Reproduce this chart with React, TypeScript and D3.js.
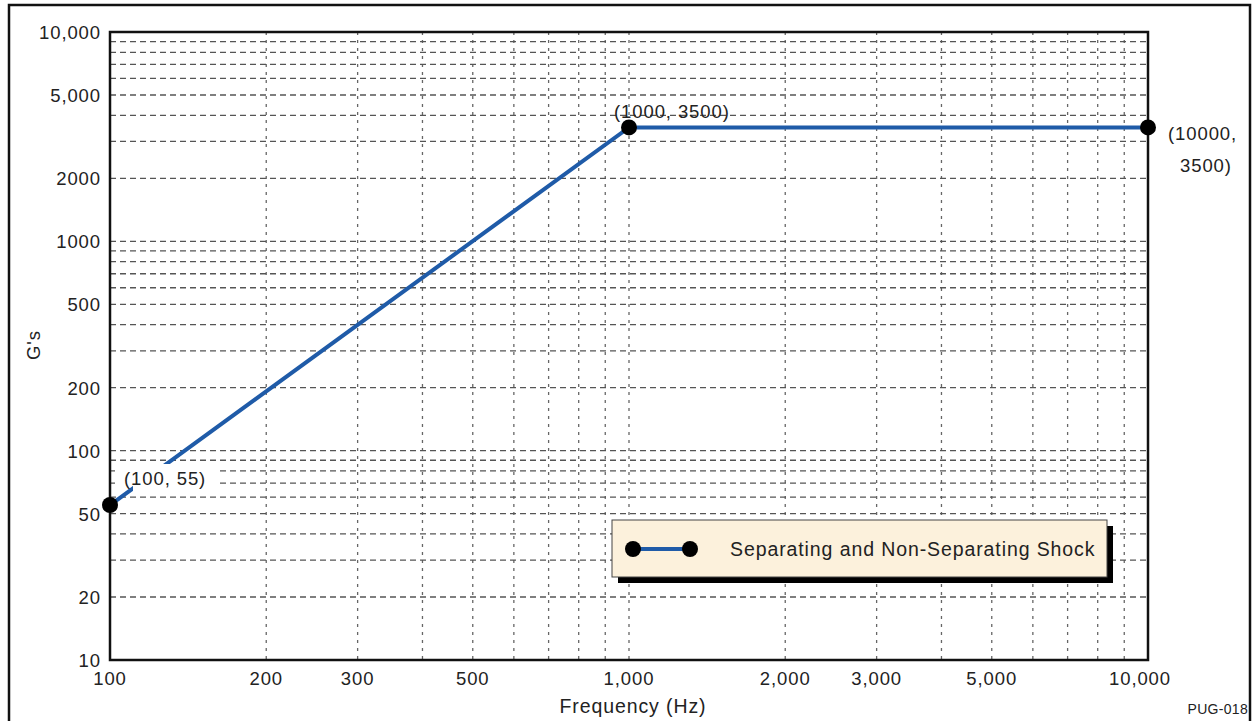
import React from "react";
import * as d3 from "d3";

const freqs = [100, 1000, 10000];
const gs = [55, 3500, 3500];
const xTickValues = [100, 200, 300, 500, 1000, 2000, 3000, 5000, 10000];
const xTickLabels = ["100", "200", "300", "500", "1,000", "2,000", "3,000", "5,000", "10,000"];
const yTickValues = [10, 20, 50, 100, 200, 500, 1000, 2000, 5000, 10000];
const yTickLabels = ["10", "20", "50", "100", "200", "500", "1000", "2000", "5,000", "10,000"];
const pointLabels = ["(100, 55)", "(1000, 3500)", "(10000,|3500)"];
const legendLabel = "Separating and Non-Separating Shock";

const W = 1252, H = 721;
const L = 110, R = 1148, T = 32, B = 660;
const FONT = "'Liberation Sans', Arial, Helvetica, sans-serif";
const BLUE = "#1f5ba8";
const TXT = "#222";
const FS = 18.5;
const LS = 0.9;

export default function App() {
  const x = d3.scaleLog().domain([100, 10000]).range([L, R]);
  const y = d3.scaleLog().domain([10, 10000]).range([B, T]);

  const minor: number[] = [];
  for (const dec of [100, 1000]) for (let k = 1; k <= 9; k++) minor.push(dec * k);
  const vgrid = minor.filter((v) => v > 100 && v < 10000);
  const hminor: number[] = [];
  for (const dec of [10, 100, 1000]) for (let k = 1; k <= 9; k++) hminor.push(dec * k);
  const hgrid = hminor.filter((v) => v > 10 && v < 10000);

  const line = d3.line<number>().x((_, i) => x(freqs[i])).y((d) => y(d));

  return (
    <svg width={W} height={H} style={{ display: "block", position: "absolute", left: 0, top: 0 }} fontFamily={FONT}>
      <rect x={0} y={0} width={W} height={H} fill="#fff" />
      <rect x={9} y={5} width={1241} height={730} fill="none" stroke="#111" strokeWidth={2.5} />
      {vgrid.map((v) => (
        <line key={"v" + v} x1={x(v)} x2={x(v)} y1={T} y2={B} stroke="#666" strokeWidth={1.3} strokeDasharray="3,5" />
      ))}
      {hgrid.map((v) => (
        <line key={"h" + v} x1={L} x2={R} y1={y(v)} y2={y(v)} stroke="#555" strokeWidth={1.3} strokeDasharray="6,4" />
      ))}
      <rect x={115} y={466} width={103} height={27} fill="#fff" />
      <path d={line(gs) || ""} fill="none" stroke={BLUE} strokeWidth={4} />
      <rect x={133} y={464} width={82} height={28} fill="#fff" />
      <text x={124} y={485} fontSize={FS} letterSpacing={LS} fill={TXT}>{pointLabels[0]}</text>
      <rect x={L} y={T} width={R - L} height={B - T} fill="none" stroke="#111" strokeWidth={2.5} />
      {gs.map((g, i) => (
        <circle key={"p" + i} cx={x(freqs[i])} cy={y(g)} r={8} fill="#000" />
      ))}
      <text x={x(1000) - 15} y={y(3500) - 9} fontSize={FS} letterSpacing={LS} fill={TXT}>{pointLabels[1]}</text>
      <text x={x(10000) + 20} y={y(3500) + 13} fontSize={FS} letterSpacing={LS} fill={TXT}>{pointLabels[2].split("|")[0]}</text>
      <text x={x(10000) + 32} y={y(3500) + 45} fontSize={FS} letterSpacing={LS} fill={TXT}>{pointLabels[2].split("|")[1]}</text>
      {yTickValues.map((v, i) => (
        <text key={"yt" + v} x={101} y={y(v) + 7} fontSize={FS} letterSpacing={LS} textAnchor="end" fill={TXT}>{yTickLabels[i]}</text>
      ))}
      {xTickValues.map((v, i) => (
        <text key={"xt" + v} x={v === 10000 ? x(v) - 8 : x(v)} y={685} fontSize={FS} letterSpacing={LS} textAnchor="middle" fill={TXT}>{xTickLabels[i]}</text>
      ))}
      <text x={633} y={713} fontSize={FS + 1} letterSpacing={LS} textAnchor="middle" fill={TXT}>Frequency (Hz)</text>
      <text transform={`translate(40, 345) rotate(-90)`} fontSize={FS} letterSpacing={LS} textAnchor="middle" fill={TXT}>G's</text>
      <text x={1248} y={714} fontSize={14} letterSpacing={0.3} textAnchor="end" fill={TXT}>PUG-018</text>
      <rect x={618} y={526} width={495} height={57} fill="#000" />
      <rect x={612} y={520} width={495} height={57} fill="#fcf1dc" stroke="#444" strokeWidth={1} />
      <line x1={633} x2={690} y1={549} y2={549} stroke={BLUE} strokeWidth={4} />
      <circle cx={633} cy={549} r={8} fill="#000" />
      <circle cx={690} cy={549} r={8} fill="#000" />
      <text x={730} y={556} fontSize={FS + 1} letterSpacing={LS} fill={TXT}>{legendLabel}</text>
    </svg>
  );
}
